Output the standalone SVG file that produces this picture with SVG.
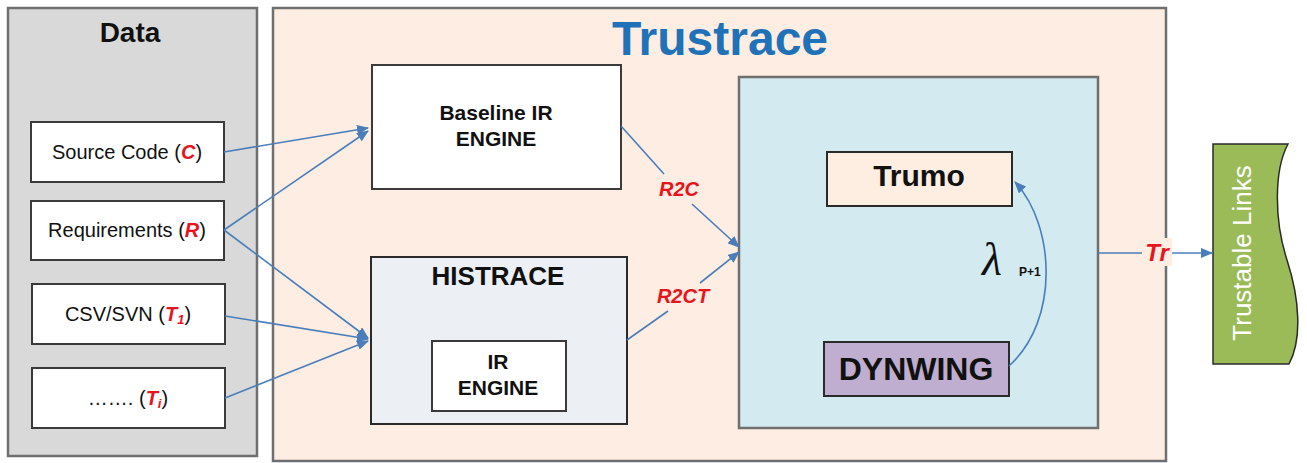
<svg xmlns="http://www.w3.org/2000/svg" width="1307" height="463" viewBox="0 0 1307 463">
<style>
.panel{stroke:#6f6f6f;stroke-width:2.5}
.box{fill:#fff;stroke:#3a3a3a;stroke-width:2}
.t{font-family:"Liberation Sans",Arial,sans-serif;fill:#111}
.b{font-weight:bold}
.red{fill:#e8141c;font-weight:bold;font-style:italic}
.conn{fill:none;stroke:#4a7ebb;stroke-width:1.6}
</style>
<defs>
<marker id="ah" markerWidth="12" markerHeight="10" refX="11" refY="5" orient="auto" markerUnits="userSpaceOnUse">
<path d="M0,0 L12,5 L0,10 Z" fill="#4a7ebb"/>
</marker>
</defs>
<rect width="1307" height="463" fill="#fff"/>
<g id="data">
<rect class="panel" x="8" y="8" width="249" height="448" fill="#d9d9d9"/>
<text class="t b" x="130" y="42" font-size="28" text-anchor="middle">Data</text>
</g>
<g id="trustrace">
<rect class="panel" x="273" y="8" width="893" height="453" fill="#fdede3"/>
<text x="720" y="55" font-family="Liberation Sans,Arial,sans-serif" font-weight="bold" font-size="48" fill="#1f72b8" text-anchor="middle">Trustrace</text>
</g>
<g id="src">
<rect class="box" x="31" y="122" width="193" height="60"/>
<text class="t" x="127" y="159" font-size="20" text-anchor="middle">Source Code (<tspan class="red">C</tspan>)</text>
</g>
<g id="req">
<rect class="box" x="31" y="201" width="193" height="59"/>
<text class="t" x="127" y="237" font-size="20" text-anchor="middle">Requirements (<tspan class="red">R</tspan>)</text>
</g>
<g id="csv">
<rect class="box" x="32" y="284" width="193" height="60"/>
<text class="t" x="128" y="321" font-size="20" text-anchor="middle">CSV/SVN (<tspan class="red">T<tspan font-size="13" dy="3">1</tspan></tspan><tspan dy="-3">)</tspan></text>
</g>
<g id="ti">
<rect class="box" x="32" y="368" width="193" height="60"/>
<text class="t" x="128" y="405" font-size="20" text-anchor="middle">……. (<tspan class="red">T<tspan font-size="13" dy="3">i</tspan></tspan><tspan dy="-3">)</tspan></text>
</g>
<g id="baseline">
<rect class="box" x="372" y="65" width="249" height="124"/>
<text class="t b" x="496" y="120" font-size="21" text-anchor="middle">Baseline IR</text>
<text class="t b" x="496" y="146" font-size="21" text-anchor="middle">ENGINE</text>
</g>
<g id="histrace">
<rect x="371" y="257" width="256" height="167" fill="#ecf0f5" stroke="#2a2a2a" stroke-width="2"/>
<text class="t b" x="498" y="285" font-size="26" text-anchor="middle">HISTRACE</text>
</g>
<g id="irengine">
<rect class="box" x="432" y="341" width="134" height="70"/>
<text class="t b" x="498" y="369" font-size="21" text-anchor="middle">IR</text>
<text class="t b" x="498" y="395" font-size="21" text-anchor="middle">ENGINE</text>
</g>
<g id="core">
<rect class="panel" x="739" y="77" width="359" height="351" fill="#d3eaf1"/>
</g>
<g id="trumo">
<rect x="827" y="152" width="185" height="54" fill="#fdeee1" stroke="#2a2a2a" stroke-width="2"/>
<text class="t b" x="919" y="186" font-size="30" text-anchor="middle">Trumo</text>
</g>
<g id="dynwing">
<rect x="824" y="342" width="185" height="54" fill="#bfaecf" stroke="#2a2a2a" stroke-width="2"/>
<text class="t b" x="916" y="380" font-size="32" text-anchor="middle">DYNWING</text>
</g>
<g id="links">
<path d="M1213,144 L1288,144 C1274,170 1274,220 1287,260 C1300,300 1302,340 1289,364 L1213,364 Z" fill="#9bbb59" stroke="#2a2a2a" stroke-width="1.5"/>
<text x="1244" y="253" font-family="Liberation Sans,Arial,sans-serif" font-size="26" fill="#fff" text-anchor="middle" transform="rotate(-90 1244 253)" dominant-baseline="middle">Trustable Links</text>
</g>
<g id="connectors">
<path class="conn" d="M224,152 L368,128" marker-end="url(#ah)"/>
<path class="conn" d="M224,230 L368,131" marker-end="url(#ah)"/>
<path class="conn" d="M224,230 L368,338" marker-end="url(#ah)"/>
<path class="conn" d="M225,316 L368,339" marker-end="url(#ah)"/>
<path class="conn" d="M225,398 L368,341" marker-end="url(#ah)"/>
<path class="conn" d="M621,126 L664,174"/>
<path class="conn" d="M692,204 L739,247" marker-end="url(#ah)"/>
<path class="conn" d="M627,340 L668,311"/>
<path class="conn" d="M700,283 L739,252" marker-end="url(#ah)"/>
<path class="conn" d="M1009,366 C1060,320 1055,225 1015,182" marker-end="url(#ah)"/>
<path class="conn" d="M1098,253 L1142,253"/>
<path class="conn" d="M1170,253 L1212,253" marker-end="url(#ah)"/>
</g>
<g id="labels">
<text class="t red" x="679" y="196" font-size="20" text-anchor="middle">R2C</text>
<text class="t red" x="683" y="303" font-size="20" text-anchor="middle">R2CT</text>
<rect x="1142" y="238" width="30" height="28" fill="#fdede3"/>
<text class="t red" x="1157" y="261" font-size="24" text-anchor="middle">Tr</text>
<text x="982" y="275" font-family="Liberation Serif,serif" font-style="italic" font-size="46" fill="#111">λ</text>
<text class="t b" x="1019" y="276" font-size="12">P+1</text>
</g>
</svg>
